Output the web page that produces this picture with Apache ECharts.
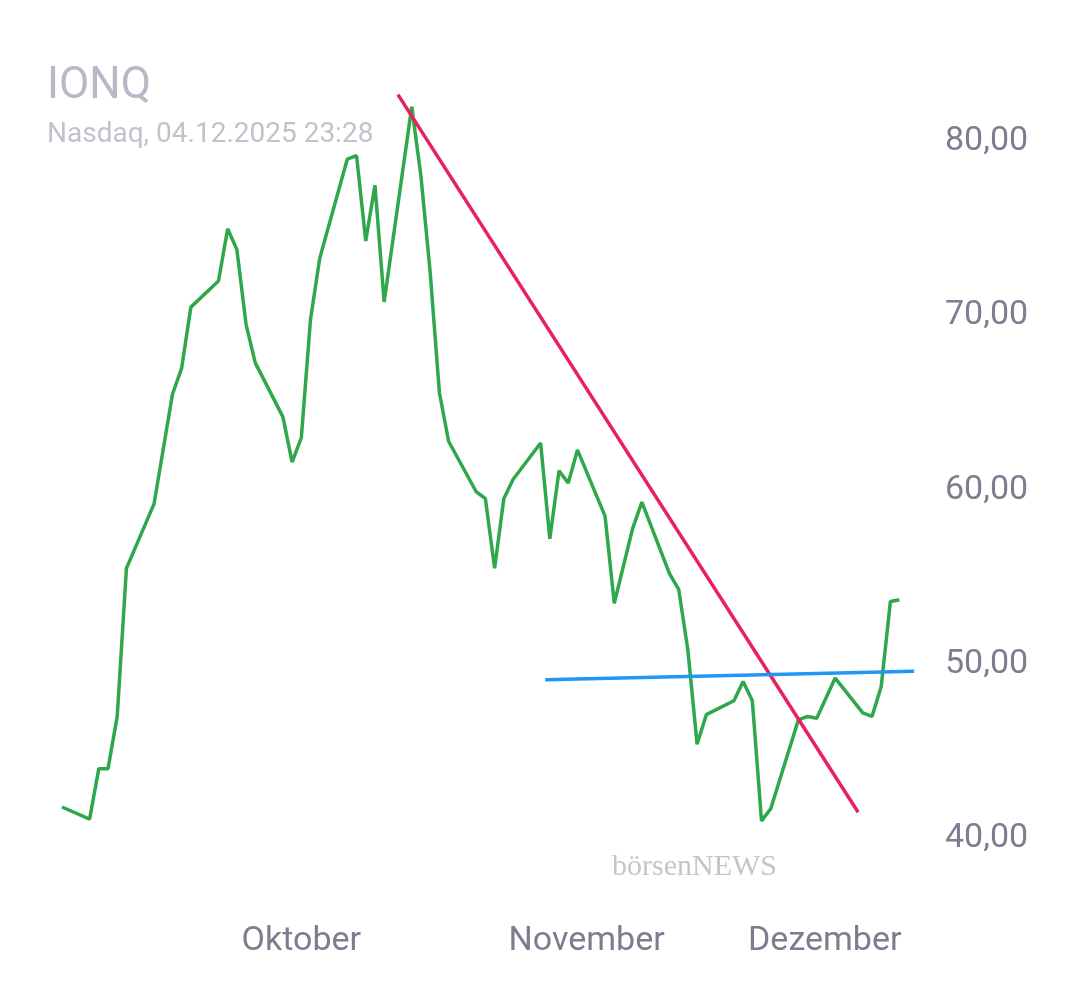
<!DOCTYPE html><html><head><meta charset="utf-8"><script src="https://cdn.jsdelivr.net/npm/echarts@6/dist/echarts.min.js"></script>
<style>html,body{margin:0;background:#fff}#c{width:1080px;height:990px}</style></head><body><div id="c"></div><script>
const dates=['2025-09-05','2025-09-08','2025-09-09','2025-09-10','2025-09-11','2025-09-12','2025-09-15','2025-09-17','2025-09-18','2025-09-19','2025-09-22','2025-09-23','2025-09-24','2025-09-25','2025-09-26','2025-09-29','2025-09-30','2025-10-01','2025-10-02','2025-10-03','2025-10-06','2025-10-07','2025-10-08','2025-10-09','2025-10-10','2025-10-13','2025-10-14','2025-10-15','2025-10-16','2025-10-17','2025-10-20','2025-10-21','2025-10-22','2025-10-23','2025-10-24','2025-10-27','2025-10-28','2025-10-29','2025-10-30','2025-10-31','2025-11-03','2025-11-04','2025-11-06','2025-11-07','2025-11-10','2025-11-11','2025-11-12','2025-11-13','2025-11-14','2025-11-17','2025-11-18','2025-11-19','2025-11-20','2025-11-21','2025-11-24','2025-11-25','2025-11-26','2025-11-28','2025-12-01','2025-12-02','2025-12-03','2025-12-04','2025-12-04T23:28'];
const prices=[41.8,41.1,44,44,47,55.5,59.2,65.5,67,70.5,72,75,73.8,69.5,67.3,64.2,61.6,63,69.8,73.3,79,79.2,74.3,77.5,70.8,82,78,72.5,65.6,62.8,59.9,59.5,55.5,59.5,60.6,62.7,57.2,61.1,60.4,62.3,58.5,53.5,57.8,59.3,55.2,54.3,50.8,45.4,47.1,47.9,49,47.9,41,41.7,46.8,47,46.9,49.2,47.2,47.0,48.7,53.6,53.7];
const trendRed=[['2025-10-11T12:00',82.7],['2025-11-30T12:00',41.5]];
const trendBlue=[['2025-10-27T12:00',49.1],['2025-12-06T14:00',49.6]];
const monthTicks=['2025-10-01','2025-11-01','2025-12-01'];
const monthNames=['Oktober','November','Dezember'];
const t=s=>+new Date(s.length===10?s+'T00:00':s);
const c=echarts.init(document.getElementById('c'));
c.setOption({animation:false,
grid:{left:62,right:162,top:72,bottom:82},
title:{text:'IONQ',subtext:'Nasdaq, 04.12.2025 23:28',left:42,top:60,itemGap:12,
 textStyle:{fontFamily:'Roboto',fontSize:44,fontWeight:'normal',color:'#b8b8c6'},
 subtextStyle:{fontFamily:'Roboto',fontSize:28,color:'#c2c2cc'}},
xAxis:{type:'value',min:t('2025-09-05'),max:t('2025-12-07'),
 axisLine:{show:false},axisTick:{show:false},splitLine:{show:false},
 axisLabel:{margin:16,fontFamily:'Roboto',fontSize:34,color:'#7d7d90',showMinLabel:true,showMaxLabel:true,
  customValues:monthTicks.map(t),
  formatter:v=>{const i=monthTicks.map(t).indexOf(v);return i===2?'{d|Dezember}':monthNames[i]},
  rich:{d:{fontFamily:'Roboto',fontSize:34,color:'#7d7d90',padding:[0,76,0,0]}}}},
yAxis:{type:'value',position:'right',min:36,max:84,
 axisLine:{show:false},axisTick:{show:false},splitLine:{show:false},
 axisLabel:{margin:27,fontFamily:'Roboto',fontSize:34,color:'#7d7d90',customValues:[40,50,60,70,80],
  formatter:v=>v.toFixed(2).replace('.',',')}},
graphic:[{type:'text',left:612,top:852,style:{text:'börsenNEWS',fontFamily:'Liberation Serif',fontSize:30,fill:'#c4c4cc'}}],
series:[
 {type:'line',data:dates.map((d,i)=>[t(d),prices[i]]),symbol:'none',lineStyle:{color:'#2ea84a',width:3.5}},
 {type:'line',data:trendRed.map(p=>[t(p[0]),p[1]]),symbol:'none',lineStyle:{color:'#e8215e',width:3.5}},
 {type:'line',data:trendBlue.map(p=>[t(p[0]),p[1]]),symbol:'none',lineStyle:{color:'#2196f3',width:3.5}}
]});
</script></body></html>
